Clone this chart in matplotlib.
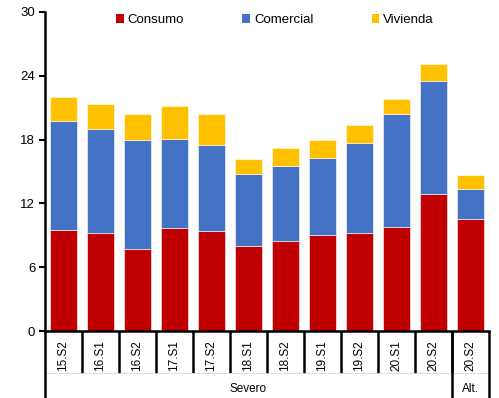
import matplotlib
matplotlib.use("Agg")
import matplotlib.pyplot as plt
from matplotlib.patches import Patch
from matplotlib.transforms import blended_transform_factory
import numpy as np

plt.rcParams['font.family'] = ['Liberation Sans', 'DejaVu Sans']

periods = ["15.S2", "16.S1", "16.S2", "17.S1", "17.S2", "18.S1", "18.S2",
           "19.S1", "19.S2", "20.S1", "20.S2", "20.S2"]
groups = ["Severo", "Alt."]
group_sizes = [11, 1]

consumo = [9.5, 9.25, 7.7, 9.7, 9.45, 7.95, 8.45, 9.05, 9.2, 9.75, 12.9, 10.55]
comercial_top = [19.75, 18.95, 17.95, 18.1, 17.45, 14.8, 15.55, 16.3, 17.7, 20.4, 23.55, 13.4]
vivienda_top = [22.0, 21.35, 20.4, 21.15, 20.4, 16.2, 17.2, 17.95, 19.4, 21.8, 25.15, 14.7]

comercial = [c - a for a, c in zip(consumo, comercial_top)]
vivienda = [v - c for c, v in zip(comercial_top, vivienda_top)]

colors = {"Consumo": "#C00000", "Comercial": "#4472C4", "Vivienda": "#FFC000"}

fig = plt.figure(figsize=(4.99, 3.98), dpi=100)
ax = fig.add_axes([45 / 499, 67 / 398, 444 / 499, 319 / 398])

x = np.arange(len(periods))
w = 0.72
ax.bar(x, consumo, w, color=colors["Consumo"], edgecolor="white", linewidth=0.4)
ax.bar(x, comercial, w, bottom=consumo, color=colors["Comercial"], edgecolor="white", linewidth=0.4)
ax.bar(x, vivienda, w, bottom=comercial_top, color=colors["Vivienda"], edgecolor="white", linewidth=0.4)

ax.set_xlim(-0.5, len(periods) - 0.5)
ax.set_ylim(0, 30)
ax.set_yticks([0, 6, 12, 18, 24, 30])
ax.tick_params(axis="y", direction="out", length=4, width=1.5, labelsize=9.5, pad=3)
ax.set_xticks([])
for s in ["top", "right"]:
    ax.spines[s].set_visible(False)
ax.spines["left"].set_linewidth(1.8)
ax.spines["bottom"].set_linewidth(1.8)

# Two-level category axis below the plot
tr = blended_transform_factory(ax.transData, ax.transAxes)
inner_y = -42 / 319
outer_y = -67 / 319
for k in range(1, len(periods)):
    ax.plot([k - 0.5, k - 0.5], [0, inner_y], color="black", lw=1.8,
            transform=tr, clip_on=False, solid_capstyle="butt")
ax.plot([-0.5, len(periods) - 0.5], [inner_y, inner_y], color="#d9d9d9", lw=0.6,
        transform=tr, clip_on=False)
edges = np.concatenate([[0], np.cumsum(group_sizes)]) - 0.5
for e in edges:
    ax.plot([e, e], [0, outer_y], color="black", lw=1.8,
            transform=tr, clip_on=False, solid_capstyle="butt")
for xi, lab in zip(x, periods):
    ax.text(xi, -25 / 319, lab, rotation=90, ha="center", va="center",
            fontsize=8.5, transform=tr)
for g, a, b in zip(groups, edges[:-1], edges[1:]):
    ax.text((a + b) / 2, -58 / 319, g, ha="center", va="center",
            fontsize=8.5, transform=tr)

handles = [Patch(facecolor=colors[k], edgecolor="none") for k in colors]
ax.legend(handles, list(colors), loc="upper center", bbox_to_anchor=(0.518, 1.03),
          ncol=3, frameon=False, fontsize=9.5, handlelength=0.6, handleheight=0.6,
          handletextpad=0.3, columnspacing=4.4)

fig.savefig("out.png", dpi=100)
